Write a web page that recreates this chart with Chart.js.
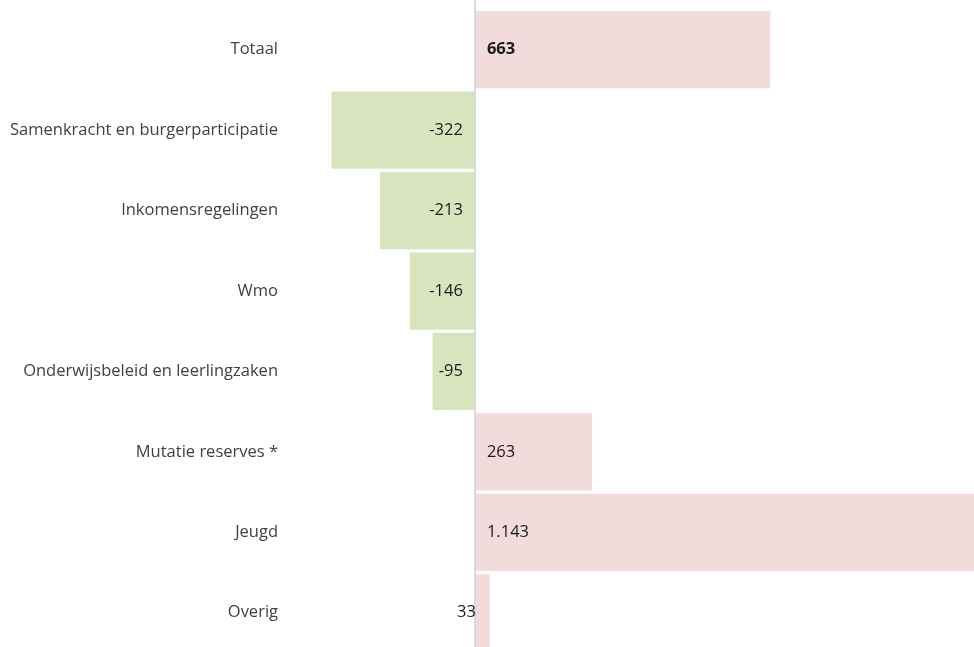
<!DOCTYPE html>
<html>
<head>
<meta charset="utf-8">
<script src="https://cdn.jsdelivr.net/npm/chart.js@4.4.1/dist/chart.umd.min.js"></script>
<style>
  html, body { margin: 0; padding: 0; background: #fff; overflow: hidden; }
  #wrap { width: 974px; height: 654px; position: relative; }
</style>
</head>
<body>
<div id="wrap"><canvas id="mutaties-chart"></canvas></div>
<script>
  // categories and values (x 1.000)
  const categories = [
    'Totaal',
    'Samenkracht en burgerparticipatie',
    'Inkomensregelingen',
    'Wmo',
    'Onderwijsbeleid en leerlingzaken',
    'Mutatie reserves *',
    'Jeugd',
    'Overig'
  ];
  const values = [663, -322, -213, -146, -95, 263, 1143, 33];
  const boldRows = ['Totaal'];

  const pink = '#f2dcdb';
  const green = '#d7e4bd';
  const fontFamily = '"Open Sans", sans-serif';

  // dutch thousand separator
  function fmt(v) {
    let s = String(Math.abs(v)).replace(/\B(?=(\d{3})+(?!\d))/g, '.');
    return (v < 0 ? '-' : '') + s;
  }

  // zero line on top of the bars
  const zeroLine = {
    id: 'zeroLine',
    afterDatasetsDraw(chart) {
      const ctx = chart.ctx;
      const x = chart.scales.x.getPixelForValue(0);
      ctx.save();
      ctx.strokeStyle = '#d9d9d9';
      ctx.lineWidth = 2;
      ctx.beginPath();
      ctx.moveTo(x, 0);
      ctx.lineTo(x, chart.height);
      ctx.stroke();
      ctx.restore();
    }
  };

  // value labels near the base of each bar
  const valueLabels = {
    id: 'valueLabels',
    afterDraw(chart) {
      const ctx = chart.ctx;
      const meta = chart.getDatasetMeta(0);
      const x0 = chart.scales.x.getPixelForValue(0);
      ctx.save();
      ctx.textBaseline = 'middle';
      meta.data.forEach(function (bar, i) {
        const v = values[i];
        const bold = boldRows.indexOf(categories[i]) >= 0;
        ctx.font = (bold ? 'bold ' : '') + '16.5px ' + fontFamily;
        ctx.fillStyle = '#1a1a1a';
        const txt = fmt(v);
        const w = ctx.measureText(txt).width;
        if (v < 0) {
          ctx.textAlign = 'right';
          ctx.fillText(txt, x0 - 12, bar.y);
        } else if (bar.x - x0 > w + 24) {
          ctx.textAlign = 'left';
          ctx.fillText(txt, x0 + 12, bar.y);
        } else {
          ctx.textAlign = 'right';
          ctx.fillText(txt, x0 + 1, bar.y);
        }
      });
      ctx.restore();
    }
  };

  new Chart(document.getElementById('mutaties-chart'), {
    type: 'bar',
    data: {
      labels: categories,
      datasets: [{
        data: values,
        backgroundColor: values.map(v => v < 0 ? green : pink),
        borderWidth: 0,
        barPercentage: 0.96,
        categoryPercentage: 1
      }]
    },
    options: {
      indexAxis: 'y',
      responsive: true,
      maintainAspectRatio: false,
      animation: false,
      layout: { padding: { top: 9.5, bottom: 1, left: 0, right: 0 } },
      plugins: {
        legend: { display: false },
        tooltip: { enabled: false }
      },
      scales: {
        x: {
          display: false,
          min: -415,
          max: 1120
        },
        y: {
          grid: { display: false, drawTicks: false },
          border: { display: false },
          afterFit(scale) {
            scale.width = 290;
            scale.paddingTop = 0;
            scale.paddingBottom = 0;
          },
          ticks: {
            padding: 12,
            color: '#404040',
            font: { family: fontFamily, size: 16.5 }
          }
        }
      }
    },
    plugins: [zeroLine, valueLabels]
  });
</script>
</body>
</html>
